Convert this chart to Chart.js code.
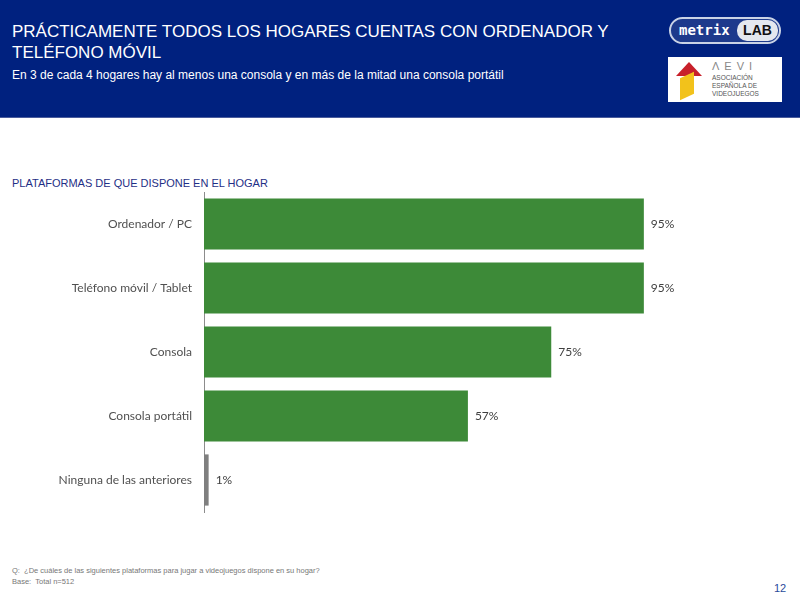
<!DOCTYPE html>
<html>
<head>
<meta charset="utf-8">
<script src="https://cdn.jsdelivr.net/npm/chart.js@4"></script>
<style>
  body { margin: 0; width: 800px; height: 600px; position: relative; background: #fff; font-family: "Liberation Sans", Arial, sans-serif; overflow: hidden; }
  #header { position: absolute; left: 0; top: 0; width: 800px; height: 117px; background: #00217f; border-bottom: 1px solid #4a5c9c; }
  #title { position: absolute; left: 12px; top: 21px; color: #fff; font-size: 17px; line-height: 21px; width: 620px; }
  #subtitle { position: absolute; left: 12px; top: 68px; color: #fff; font-size: 12px; }
  #metrix { position: absolute; left: 669px; top: 17px; width: 112px; height: 27px; border: 2px solid #c9d3e6; border-radius: 14px; background: #1d3a8c; box-sizing: border-box; font-size: 14px; }
  #metrix .m { position: absolute; left: 8px; top: 3px; color: #fff; font-family: "DejaVu Sans Mono", monospace; font-weight: bold; font-size: 14px; }
  #metrix .l { position: absolute; left: 66px; top: 1px; width: 41px; height: 21px; border-radius: 10px; background: #e4e8ee; color: #111; font-weight: bold; text-align: center; line-height: 21px; font-size: 14px; }
  #aevi { position: absolute; left: 668px; top: 57px; width: 114px; height: 45px; background: #fff; }
  #aevi .shape1 { position: absolute; left: 8px; top: 5px; width: 0; height: 0; border-left: 13px solid transparent; border-right: 13px solid transparent; border-bottom: 14px solid #c8202a; }
  #aevi .shape2 { position: absolute; left: 12px; top: 18px; width: 14px; height: 22px; background: #f2c21b; transform: skewY(-25deg); }
  #aevi .t1 { position: absolute; left: 44px; top: 3px; font-size: 11px; letter-spacing: 5px; color: #888; }
  #aevi .t2 { position: absolute; left: 44px; top: 17px; font-size: 6.5px; line-height: 8px; color: #555; }
  #section { position: absolute; left: 12px; top: 177px; color: #1f2f86; font-size: 11px; }
  #chartBox { position: absolute; left: 0; top: 180px; width: 800px; height: 350px; }
  #q { position: absolute; left: 12px; top: 565px; color: #777; font-size: 7.5px; line-height: 11px; }
  #page { position: absolute; left: 774px; top: 582px; color: #2a4b9b; font-size: 11px; }
</style>
</head>
<body>
<div id="header">
  <div id="title">PRÁCTICAMENTE TODOS LOS HOGARES CUENTAS CON ORDENADOR Y TELÉFONO MÓVIL</div>
  <div id="subtitle">En 3 de cada 4 hogares hay al menos una consola y en más de la mitad una consola portátil</div>
  <div id="metrix"><span class="m">metrix</span><span class="l">LAB</span></div>
  <div id="aevi">
    <div class="shape1"></div><div class="shape2"></div>
    <div class="t1">ΛEVI</div>
    <div class="t2">ASOCIACIÓN<br>ESPAÑOLA DE<br>VIDEOJUEGOS</div>
  </div>
</div>
<div id="section">PLATAFORMAS DE QUE DISPONE EN EL HOGAR</div>
<div id="chartBox"><canvas id="chart" width="800" height="350"></canvas></div>
<div id="q">Q:&nbsp; ¿De cuáles de las siguientes plataformas para jugar a videojuegos dispone en su hogar?<br>Base:&nbsp; Total n=512</div>
<div id="page">12</div>

<script>
// Data
const platforms = ["Ordenador / PC", "Teléfono móvil / Tablet", "Consola", "Consola portátil", "Ninguna de las anteriores"];
const shareValues = [95, 95, 75, 57, 1];
const valueLabels = ["95%", "95%", "75%", "57%", "1%"];
const barColors = ["#3d8a38", "#3d8a38", "#3d8a38", "#3d8a38", "#7f7f7f"];

// Draws the percentage next to each bar
const valueLabelPlugin = {
  id: "valueLabels",
  afterDatasetsDraw(chart) {
    const ctx = chart.ctx;
    const meta = chart.getDatasetMeta(0);
    ctx.save();
    ctx.font = "12px Lato, 'Open Sans', sans-serif";
    ctx.fillStyle = "#404040";
    ctx.textAlign = "left";
    ctx.textBaseline = "middle";
    meta.data.forEach((bar, i) => {
      ctx.fillText(valueLabels[i], bar.x + 7, bar.y);
    });
    ctx.restore();
  }
};

const ctx = document.getElementById("chart").getContext("2d");
new Chart(ctx, {
  type: "bar",
  data: {
    labels: platforms,
    datasets: [{
      data: shareValues,
      backgroundColor: barColors,
      barPercentage: 0.8,
      categoryPercentage: 1.0
    }]
  },
  options: {
    indexAxis: "y",
    responsive: false,
    animation: false,
    layout: { padding: { top: 12, bottom: 18, right: 133, left: 0 } },
    plugins: {
      legend: { display: false },
      tooltip: { enabled: false }
    },
    scales: {
      x: { display: false, min: 0, max: 100 },
      y: {
        afterFit: (scale) => {
          scale.width = 204;
          scale.paddingTop = 0;
          scale.paddingBottom = 0;
        },
        grid: { display: false, drawTicks: false },
        border: { display: true, color: "#8c8c8c", width: 1 },
        ticks: {
          padding: 12,
          color: "#505050",
          font: { family: "Lato, 'Open Sans', sans-serif", size: 12 }
        }
      }
    }
  },
  plugins: [valueLabelPlugin]
});
</script>
</body>
</html>
